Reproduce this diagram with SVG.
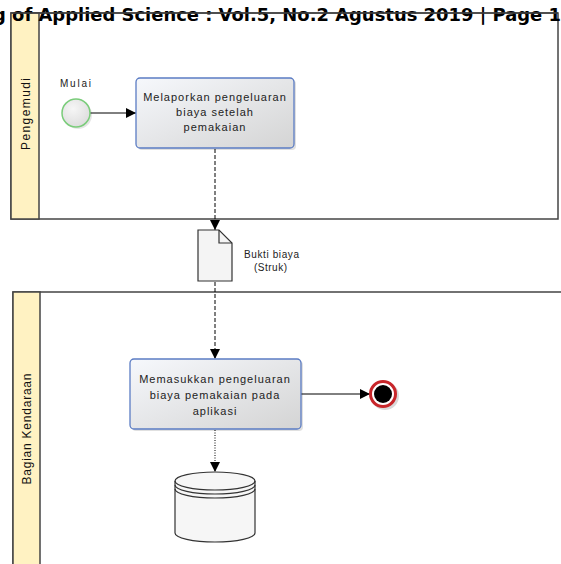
<svg xmlns="http://www.w3.org/2000/svg" width="561" height="564" viewBox="0 0 561 564">
<defs>
<linearGradient id="taskFill" x1="0" y1="0" x2="1" y2="1">
<stop offset="0" stop-color="#F6F8FC"/>
<stop offset="1" stop-color="#D4D4D4"/>
</linearGradient>
<radialGradient id="startFill" cx="0.4" cy="0.35" r="0.7">
<stop offset="0" stop-color="#F6F6F6"/>
<stop offset="1" stop-color="#DCDCDC"/>
</radialGradient>
<marker id="arr" markerUnits="userSpaceOnUse" markerWidth="11" markerHeight="10" refX="10" refY="5" orient="auto">
<path d="M0,0 L10,5 L0,10 z" fill="#000"/>
</marker>
</defs>
<style>
.pool{fill:#fff;stroke:#444;stroke-width:1.5}
.lanehead{fill:#FFF2C2;stroke:#444;stroke-width:1.5}
.lanelabel{font-family:"Liberation Sans",Arial,sans-serif;font-size:12px;fill:#111}
.task{fill:url(#taskFill);stroke:#5B7CC4;stroke-width:1.3}
.shadow{fill:#000;opacity:0.12}
.tt{font-family:"Liberation Sans",Arial,sans-serif;font-size:11px;fill:#222;text-anchor:middle;letter-spacing:1px}
.lbl{font-family:"Liberation Sans",Arial,sans-serif;font-size:10px;fill:#222}
.conn{fill:none;stroke:#000;stroke-width:1}
.dash{stroke-dasharray:4,2}
.dot{stroke-dasharray:1,1.5}
.hdr{font-family:"DejaVu Sans",sans-serif;font-weight:bold;font-size:18px;fill:#000}
</style>

<g id="pool-pengemudi">
<rect class="pool" x="11" y="13" width="547" height="206"/>
<rect class="lanehead" x="11" y="13" width="28" height="206"/>
<text class="lanelabel" transform="translate(30,114) rotate(-90)" text-anchor="middle" textLength="72" lengthAdjust="spacing">Pengemudi</text>
</g>

<g id="pool-bagian-kendaraan">
<rect class="pool" x="13" y="292" width="560" height="300"/>
<rect class="lanehead" x="13" y="292" width="27" height="300"/>
<text class="lanelabel" transform="translate(31,429) rotate(-90)" text-anchor="middle" textLength="111" lengthAdjust="spacing">Bagian Kendaraan</text>
</g>

<text class="hdr" x="-7" y="21" textLength="568" lengthAdjust="spacingAndGlyphs">g of Applied Science : Vol.5, No.2 Agustus 2019 | Page 1</text>
<line x1="11" y1="13" x2="558" y2="13" stroke="#444" stroke-width="1.5"/>

<g id="connectors">
<line class="conn" x1="90" y1="113" x2="136" y2="113" marker-end="url(#arr)"/>
<line class="conn dash" x1="215" y1="149" x2="215" y2="230" marker-end="url(#arr)"/>
<line class="conn dash" x1="215" y1="282" x2="215" y2="359" marker-end="url(#arr)"/>
<line class="conn" x1="301" y1="394" x2="370" y2="394" marker-end="url(#arr)"/>
<line class="conn dot" x1="215" y1="430" x2="215" y2="472" marker-end="url(#arr)"/>
</g>

<g id="start-mulai">
<circle cx="78" cy="115" r="14" fill="#000" opacity="0.1"/>
<circle cx="76" cy="113" r="14" fill="url(#startFill)" stroke="#7ACC7A" stroke-width="1.5"/>
<text class="lbl" x="60" y="87" textLength="31" lengthAdjust="spacing">Mulai</text>
</g>

<g id="task-melaporkan">
<rect class="shadow" x="138" y="80" width="158" height="70" rx="4"/>
<rect class="task" x="136" y="78" width="158" height="70" rx="4"/>
<text class="tt" x="215" y="101">Melaporkan pengeluaran</text>
<text class="tt" x="215" y="116">biaya setelah</text>
<text class="tt" x="215" y="131">pemakaian</text>
</g>

<g id="doc-bukti-biaya">
<path d="M198,230 H219 L232,243 V281 H198 Z" fill="#F4F4F4" stroke="#333" stroke-width="1.2"/>
<path d="M219,230 V243 H232" fill="none" stroke="#333" stroke-width="1.2"/>
<text class="lbl" x="244" y="258" textLength="55" lengthAdjust="spacing">Bukti biaya</text>
<text class="lbl" x="254" y="271" textLength="33" lengthAdjust="spacing">(Struk)</text>
</g>

<g id="task-memasukkan">
<rect class="shadow" x="132" y="361" width="171" height="70" rx="4"/>
<rect class="task" x="130" y="359" width="171" height="70" rx="4"/>
<text class="tt" x="215" y="383">Memasukkan pengeluaran</text>
<text class="tt" x="215" y="399">biaya pemakaian pada</text>
<text class="tt" x="215" y="415">aplikasi</text>
</g>

<g id="end-event">
<circle cx="385" cy="396" r="14" fill="#000" opacity="0.15"/>
<circle cx="383" cy="394" r="12.5" fill="#fff" stroke="#C8262A" stroke-width="3"/>
<circle cx="383" cy="394" r="9" fill="#000"/>
</g>

<g id="datastore">
<path d="M175,481 V533 A40,9 0 0 0 255,533 V481 A40,9 0 0 0 175,481 Z" fill="#F6F6F6" stroke="#333" stroke-width="1.2"/>
<path d="M175,481 A40,9 0 0 0 255,481" fill="none" stroke="#333" stroke-width="1.2"/>
<path d="M175,485 A40,9 0 0 0 255,485" fill="none" stroke="#333" stroke-width="1.2"/>
<path d="M175,489 A40,9 0 0 0 255,489" fill="none" stroke="#333" stroke-width="1.2"/>
</g>
</svg>
